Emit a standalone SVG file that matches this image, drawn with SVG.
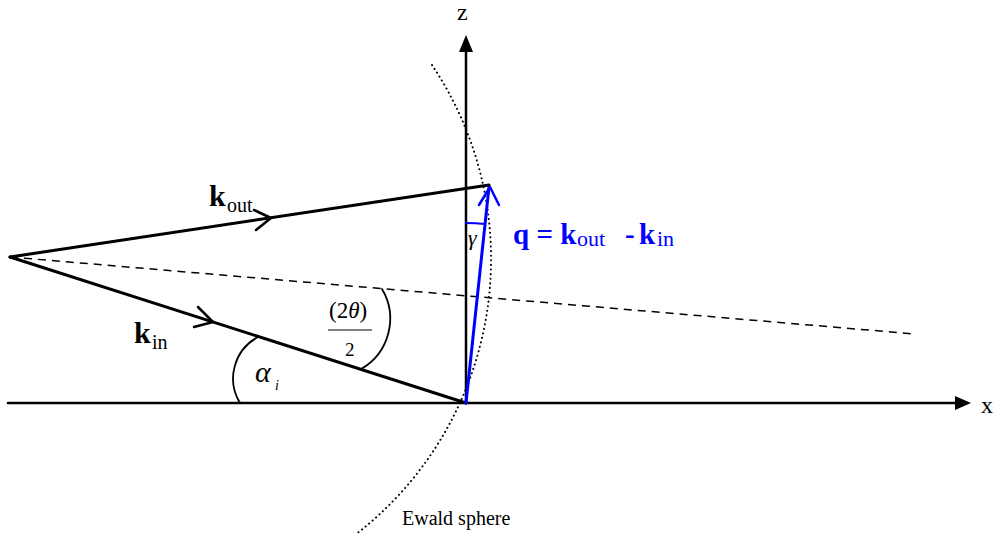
<svg xmlns="http://www.w3.org/2000/svg" width="1003" height="537" viewBox="0 0 1003 537">
<style>
.ln{stroke:#000;fill:none;stroke-linecap:round;stroke-linejoin:round}
text{font-family:"Liberation Serif","Times New Roman",serif;fill:#000}
.b{fill:#0000ff}
</style>
<rect width="1003" height="537" fill="#fff"/>
<g id="axes">
<line class="ln" x1="8" y1="403" x2="958" y2="403" stroke-width="2.5"/>
<polygon points="971,403 955,396 955,410" fill="#000"/>
<line class="ln" x1="466" y1="403" x2="466" y2="50" stroke-width="2.5"/>
<polygon points="466,35 459,52 473,52" fill="#000"/>
<text x="457" y="20" font-size="24" font-family="Liberation Serif, serif">z</text>
<text x="981" y="413" font-size="24" font-family="Liberation Serif, serif">x</text>
</g>
<g id="ewald">
<path d="M432 65 A348 348 0 0 1 355 535" fill="none" stroke="#000" stroke-width="2" stroke-dasharray="0.1 4.5" stroke-linecap="round"/>
<text x="402" y="525" font-size="20" font-family="Liberation Serif, serif">Ewald sphere</text>
</g>
<g id="connectors">
<line class="ln" x1="10" y1="257" x2="489" y2="185" stroke-width="3"/>
<polyline class="ln" points="254,210 271,218 256,230" stroke-width="2.5"/>
<line class="ln" x1="10" y1="257" x2="466" y2="403" stroke-width="3"/>
<polyline class="ln" points="198,307 213,322 194,327" stroke-width="2.5"/>
<line x1="10" y1="257" x2="915" y2="334" stroke="#000" stroke-width="1.5" stroke-dasharray="8 6"/>
<line class="ln" x1="466" y1="403" x2="489" y2="187" stroke-width="3" style="stroke:#0000ff"/>
<polyline class="ln" points="479,205 490,187 499,205" stroke-width="2.5" style="stroke:#0000ff"/>
<path class="ln" d="M240 403 A47 47 0 0 1 258 337" stroke-width="1.8"/>
<path class="ln" d="M382 289 A58 58 0 0 1 361 369" stroke-width="1.8"/>
<path class="ln" d="M466 223 A180 180 0 0 1 485 224" stroke-width="2" style="stroke:#0000ff"/>
</g>
<g id="labels">
<text x="209" y="206" font-size="30" font-weight="bold" font-family="Liberation Serif, serif">k<tspan x="227" y="212" font-size="20" font-weight="normal">out</tspan></text>
<text x="134" y="343" font-size="30" font-weight="bold" font-family="Liberation Serif, serif">k<tspan x="152" y="349" font-size="20" font-weight="normal">in</tspan></text>
<text class="b" x="513" y="244" font-size="29" font-weight="bold" font-family="Liberation Serif, serif">q = k<tspan x="577" y="246" font-size="22" font-weight="normal">out</tspan><tspan x="625" y="244">-</tspan><tspan x="639" y="244">k</tspan><tspan x="657" y="246" font-size="22" font-weight="normal">in</tspan></text>
<text x="468" y="245" font-size="22" font-style="italic" font-family="Liberation Serif, serif">γ</text>
<text x="329" y="318" font-size="23" font-family="Liberation Serif, serif">(2<tspan font-style="italic">θ</tspan>)</text>
<line x1="328" y1="330" x2="372" y2="330" stroke="#000" stroke-width="1"/>
<text x="345" y="356" font-size="19" font-family="Liberation Serif, serif">2</text>
<text x="255" y="382" font-size="30" font-style="italic" font-family="Liberation Serif, serif">α</text>
<text x="275" y="390" font-size="14" font-style="italic" font-family="Liberation Serif, serif">i</text>
</g>
</svg>
